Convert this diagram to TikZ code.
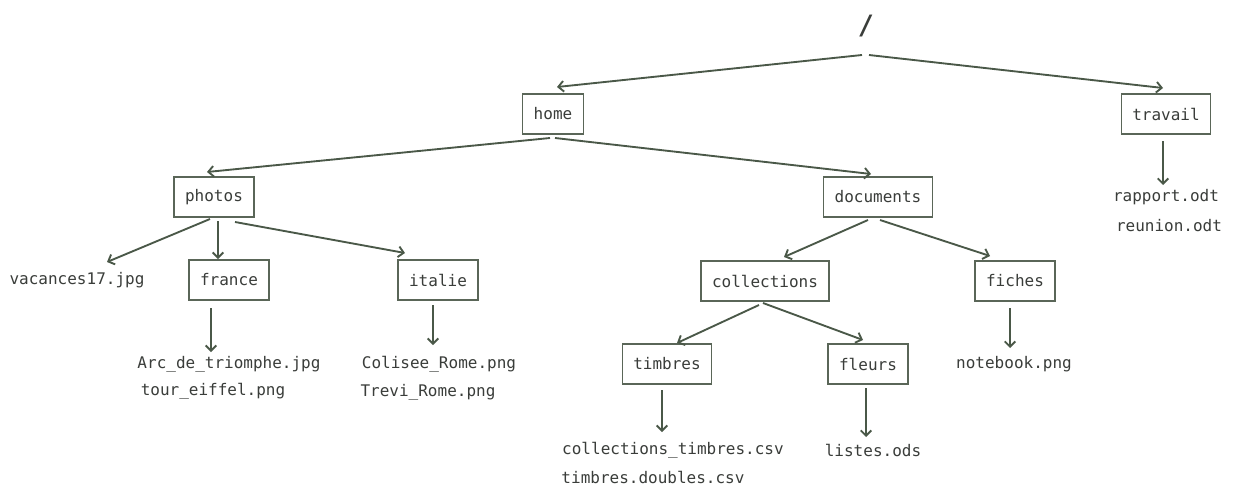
\documentclass[tikz,border=0pt]{standalone}
\usepackage{fontspec}
\setmonofont{DejaVu Sans Mono}
\usetikzlibrary{calc,arrows.meta}
\definecolor{txt}{HTML}{3A3D3A}
\definecolor{boxc}{HTML}{5A6658}
\definecolor{linec}{HTML}{4A5848}
\begin{document}
\begin{tikzpicture}[x=0.75pt,y=-0.75pt,
  every node/.style={font=\ttfamily\fontsize{12}{14}\selectfont, text=txt},
  dirbox/.style={draw=boxc, line width=1.1pt, fill=white, inner xsep=8.25pt, inner ysep=0pt, minimum height=30pt},
  filetxt/.style={inner sep=0pt},
  link/.style={draw=linec, line width=1.4pt, -{Straight Barb[length=4pt,width=8pt]}}]
\useasboundingbox[fill=white] (0,0) rectangle (1233,486);

\node (root) at (866,26) {\fontsize{20}{24}\selectfont\bfseries /};
\node[dirbox] (home) at (553,114) {home};
\node[dirbox] (travail) at (1166,114) {travail};
\node[dirbox] (photos) at (214,197) {photos};
\node[dirbox] (documents) at (878,197) {documents};
\node[dirbox] (france) at (229,280) {france};
\node[dirbox] (italie) at (438,280) {italie};
\node[dirbox] (collections) at (765,281) {collections};
\node[dirbox] (fiches) at (1015,281) {fiches};
\node[dirbox] (timbres) at (667,364) {timbres};
\node[dirbox] (fleurs) at (868,364) {fleurs};

\node[filetxt] (vac) at (77,280) {vacances17.jpg};
\node[filetxt] (arc) at (229,364) {Arc\_de\_triomphe.jpg};
\node[filetxt] (tour) at (213,391) {tour\_eiffel.png};
\node[filetxt] (col) at (439,364) {Colisee\_Rome.png};
\node[filetxt] (trevi) at (428,392) {Trevi\_Rome.png};
\node[filetxt] (ct) at (673,450) {collections\_timbres.csv};
\node[filetxt] (td) at (653,477) {timbres.doubles.csv};
\node[filetxt] (listes) at (873,450) {listes.ods};
\node[filetxt] (nb) at (1014,364) {notebook.png};
\node[filetxt] (rap) at (1166,197) {rapport.odt};
\node[filetxt] (reu) at (1169,226) {reunion.odt};

\draw[link] ($(root)+(-4,29)$) -- ($(home)+(4,-27)$);
\draw[link] ($(root)+(3,29)$) -- ($(travail)+(-3,-26)$);
\draw[link] ($(home)+(-3,24)$) -- ($(photos)+(-7,-25)$);
\draw[link] ($(home)+(2,24)$) -- ($(documents)+(-7,-23)$);
\draw[link] ($(photos)+(-4,22)$) -- ($(vac)+(30,-18)$);
\draw[link] ($(photos)+(4,24)$) -- ($(france)+(-11,-21)$);
\draw[link] ($(photos)+(21,25)$) -- ($(italie)+(-33,-27)$);
\draw[link] ($(france)+(-18,28)$) -- ($(arc)+(-18,-12)$);
\draw[link] ($(italie)+(-5,25)$) -- ($(col)+(-6,-19)$);
\draw[link] ($(documents)+(-10,23)$) -- ($(collections)+(19,-24)$);
\draw[link] ($(documents)+(2,23)$) -- ($(fiches)+(-25,-25)$);
\draw[link] ($(collections)+(-6,24)$) -- ($(timbres)+(10,-21)$);
\draw[link] ($(collections)+(-2,22)$) -- ($(fleurs)+(-5,-24)$);
\draw[link] ($(timbres)+(-5,26)$) -- ($(ct)+(-11,-18)$);
\draw[link] ($(fleurs)+(-2,24)$) -- ($(listes)+(-7,-13)$);
\draw[link] ($(fiches)+(-5,27)$) -- ($(nb)+(-4,-16)$);
\draw[link] ($(travail)+(-3,27)$) -- ($(rap)+(-3,-12)$);
\end{tikzpicture}
\end{document}
